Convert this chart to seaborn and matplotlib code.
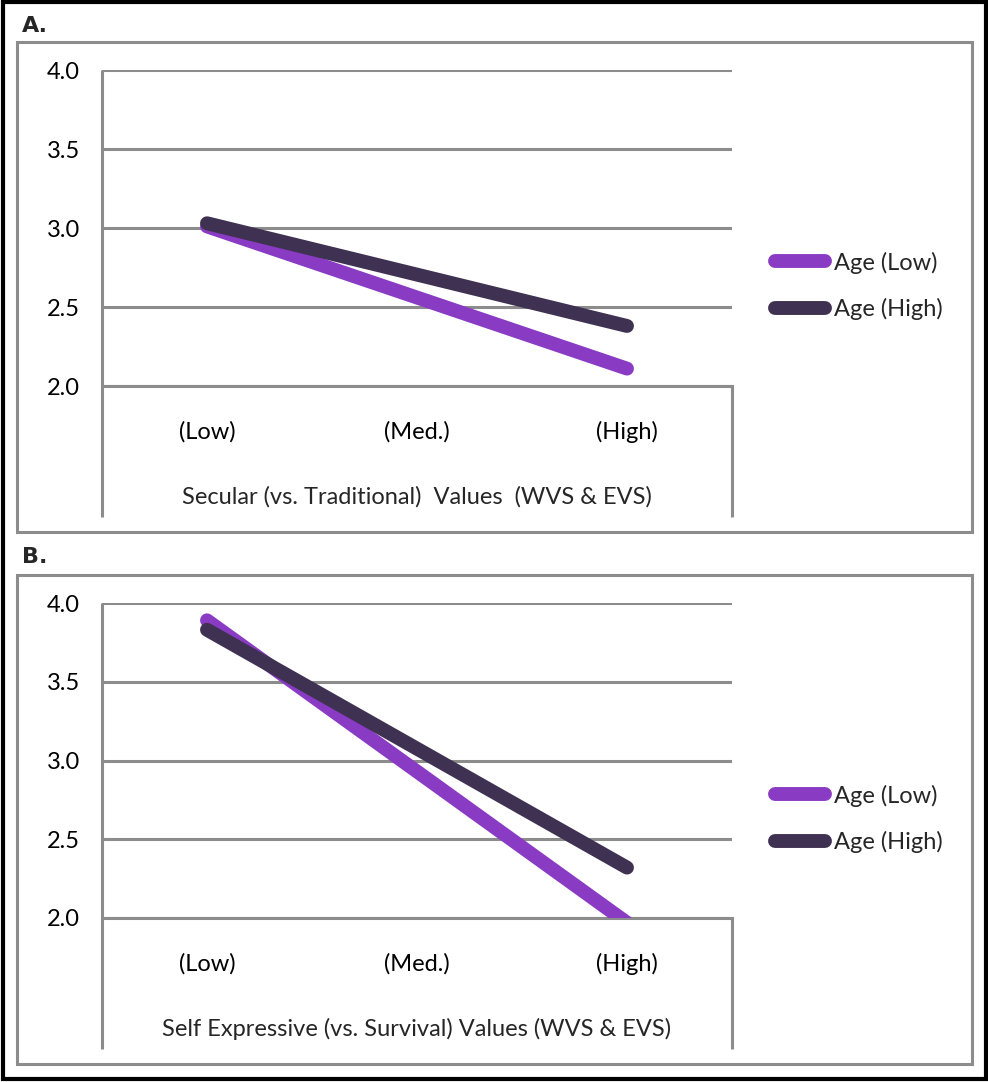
import matplotlib
matplotlib.use("Agg")
import matplotlib.pyplot as plt
from matplotlib.patches import Rectangle
from matplotlib.lines import Line2D
import seaborn as sns
import pandas as pd

# ---- data -------------------------------------------------------------
categories = ["(Low)", "(Med.)", "(High)"]
observed_at = ["(Low)", "(High)"]
age_groups = ["Age (Low)", "Age (High)"]
yticks = [2.0, 2.5, 3.0, 3.5, 4.0]

secular_age_low = [3.01, 2.11]
secular_age_high = [3.03, 2.38]
selfexp_age_low = [3.89, 1.97]
selfexp_age_high = [3.83, 2.32]

panel_letters = ["A.", "B."]
panel_xlabels = [
    "Secular (vs. Traditional)  Values  (WVS & EVS)",
    "Self Expressive (vs. Survival) Values (WVS & EVS)",
]

# ---- style ------------------------------------------------------------
sns.set_style("white")
plt.rcParams["font.family"] = ["Lato", "DejaVu Sans"]
FS = 17
GRAY = "#8C8C8C"
palette = {"Age (Low)": "#8A3BC4", "Age (High)": "#3F3151"}

W, H = 988, 1082
fig = plt.figure(figsize=(W / 100, H / 100), dpi=100)


def panel_frame(x0, y0, x1, y1, color, lw):
    fig.add_artist(Rectangle((x0 / W, 1 - y1 / H), (x1 - x0) / W, (y1 - y0) / H,
                             transform=fig.transFigure, fill=False,
                             edgecolor=color, linewidth=lw))


# outer border and the two panel frames
panel_frame(3, 1.5, 986, 1079, "black", 3.0)
panel_frame(17, 42, 972, 532, GRAY, 2.2)
panel_frame(17, 575, 972, 1064, GRAY, 2.2)

axes_boxes = [(70, 386, 517), (603, 918, 1049)]
series = [(secular_age_low, secular_age_high), (selfexp_age_low, selfexp_age_high)]
letter_y = [26, 557]

for i, ((top, bottom, ext), (low_vals, high_vals)) in enumerate(zip(axes_boxes, series)):
    ax = fig.add_axes([102 / W, 1 - bottom / H, 630 / W, (bottom - top) / H])
    df = pd.DataFrame({
        "pos": [categories.index(c) for c in observed_at] * 2,
        "value": low_vals + high_vals,
        "group": [age_groups[0]] * 2 + [age_groups[1]] * 2,
    })
    sns.lineplot(data=df, x="pos", y="value", hue="group", hue_order=age_groups,
                 palette=palette, linewidth=10, solid_capstyle="round",
                 legend=False, ax=ax, zorder=5)
    data_lines = list(ax.get_lines())

    ax.set_xlim(-0.5, len(categories) - 0.5)
    ax.set_ylim(yticks[0], yticks[-1])
    ax.set_yticks(yticks)
    ax.set_yticklabels([f"{v:.1f}" for v in yticks])
    ax.set_xticks(range(len(categories)))
    ax.set_xticklabels(categories)
    ax.tick_params(axis="x", length=0, pad=25, labelsize=FS, colors="black")
    ax.tick_params(axis="y", length=0, pad=16, labelsize=FS, colors="black")
    ax.set_ylabel("")
    ax.set_xlabel(panel_xlabels[i], fontsize=FS)
    h = bottom - top
    ax.xaxis.set_label_coords(0.5, -111 / h)
    ax.xaxis.label.set_va("center")

    ax.grid(axis="y", color=GRAY, linewidth=2.2)
    ax.grid(axis="x", visible=False)
    ax.set_axisbelow(True)
    for s in ["top", "right", "left"]:
        ax.spines[s].set_visible(False)
    ax.spines["bottom"].set_color(GRAY)
    ax.spines["bottom"].set_linewidth(2.2)
    ax.spines["bottom"].set_zorder(1)

    # category box: left axis runs below the plot, right edge below the floor
    ext_frac = -(ext - bottom) / h
    ax.add_line(Line2D([0, 0], [1, ext_frac], transform=ax.transAxes, color=GRAY,
                       linewidth=2.2, clip_on=False, solid_capstyle="butt", zorder=1))
    ax.add_line(Line2D([1, 1], [0, ext_frac], transform=ax.transAxes, color=GRAY,
                       linewidth=2.2, clip_on=False, solid_capstyle="butt", zorder=1))

    leg_center = (top + 216) / H
    ax.legend(handles=data_lines, labels=age_groups, loc="center left",
              bbox_to_anchor=(775 / W, 1 - leg_center), bbox_transform=fig.transFigure,
              frameon=False, fontsize=FS, handlelength=2.1, handletextpad=0.38,
              borderpad=0, borderaxespad=0, labelspacing=1.05)

    fig.text(22 / W, 1 - letter_y[i] / H, panel_letters[i], fontsize=16,
             fontweight="bold", family=["DejaVu Sans"],
             va="center", ha="left")

fig.savefig("out.png", dpi=100)
